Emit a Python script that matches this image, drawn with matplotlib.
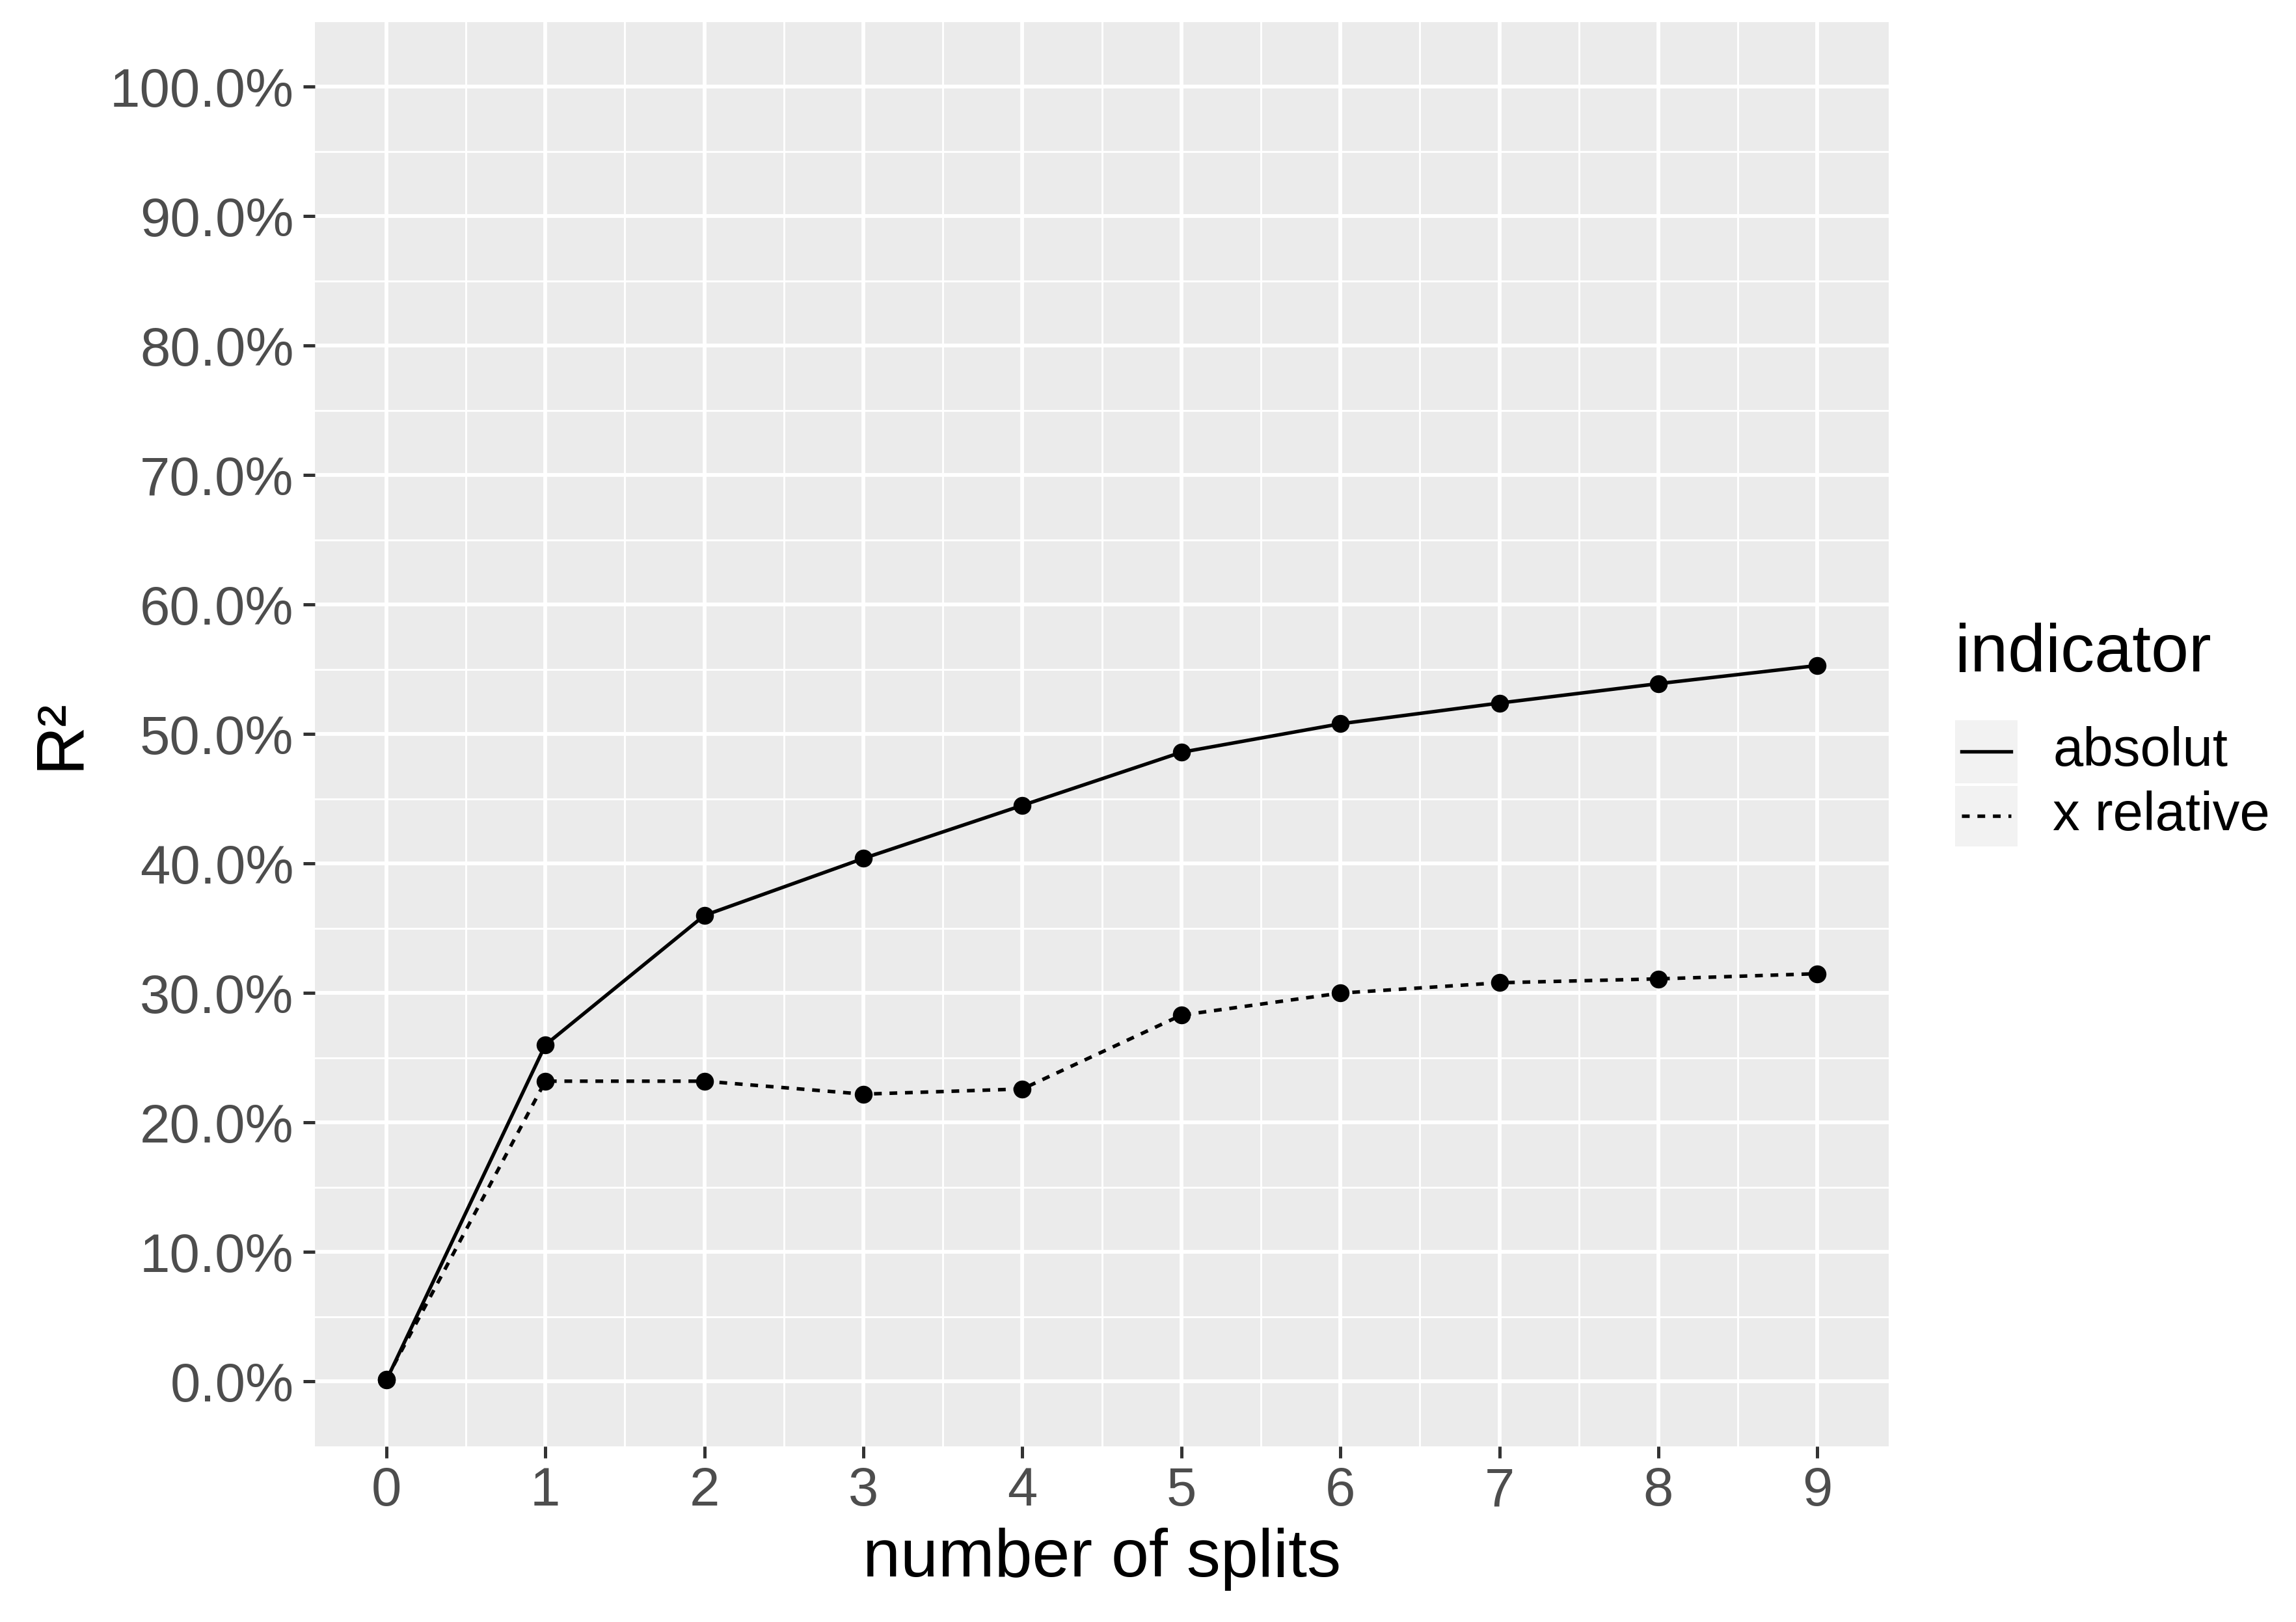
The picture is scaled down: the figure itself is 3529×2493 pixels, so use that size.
import matplotlib
matplotlib.use("Agg")
import matplotlib.pyplot as plt
from matplotlib.lines import Line2D
from matplotlib.patches import Rectangle
from matplotlib.ticker import FixedLocator, FuncFormatter

plt.rcParams['font.family'] = ['Liberation Sans', 'DejaVu Sans']

# data
splits = [0, 1, 2, 3, 4, 5, 6, 7, 8, 9]
r2_absolut = [0.001, 0.260, 0.360, 0.404, 0.445, 0.486, 0.508, 0.524, 0.539, 0.553]
r2_relative = [0.002, 0.232, 0.232, 0.222, 0.226, 0.283, 0.300, 0.308, 0.311, 0.315]
series_names = ['absolut', 'x relative']
y_ticks = [i / 10 for i in range(11)]

W, H = 3529, 2493
fig = plt.figure(figsize=(W / 300, H / 300), dpi=300)
# panel position measured on the 1568x1108 preview
left, right, top, bottom = 215 / 1568, 1290 / 1568, 1 - 15 / 1108, 1 - 988 / 1108
ax = fig.add_axes([left, bottom, right - left, top - bottom])

ax.set_facecolor('#EBEBEB')
for s in ax.spines.values():
    s.set_visible(False)

ax.set_xlim(-0.45, 9.45)
ax.set_ylim(-0.05, 1.05)
ax.xaxis.set_major_locator(FixedLocator(splits))
ax.yaxis.set_major_locator(FixedLocator(y_ticks))
ax.xaxis.set_minor_locator(FixedLocator([x + 0.5 for x in splits[:-1]]))
ax.yaxis.set_minor_locator(FixedLocator([y + 0.05 for y in y_ticks[:-1]]))
ax.yaxis.set_major_formatter(FuncFormatter(lambda v, p: f"{v * 100:.1f}%"))

ax.grid(which='major', color='white', linewidth=1.4)
ax.grid(which='minor', color='white', linewidth=0.7)
ax.set_axisbelow(True)

ax.tick_params(which='major', length=4.3, width=1.2, color='#333333',
               labelsize=20, labelcolor='#4D4D4D')
ax.tick_params(axis='x', pad=3)
ax.tick_params(axis='y', pad=3.5)
ax.tick_params(which='minor', length=0)

ax.plot(splits, r2_absolut, color='black', linewidth=1.3, solid_capstyle='butt')
ax.plot(splits, r2_relative, color='black', linewidth=1.3, dashes=(2.2, 2.2))
ax.plot(splits, r2_absolut, 'o', color='black', markersize=6.6, markeredgewidth=0)
ax.plot(splits, r2_relative, 'o', color='black', markersize=6.6, markeredgewidth=0)

# axis titles
fig.text((left + right) / 2, 1 - 1065 / 1108, 'number of splits', fontsize=25,
         ha='center', va='center')
fig.text(42 / 1568, (top + bottom) / 2, 'R²', fontsize=25, rotation=90,
         ha='center', va='center')

# legend drawn by hand so the key boxes match ggplot
fig.text(1335 / 1568, 1 - 447 / 1108, 'indicator', fontsize=25, ha='left', va='center')
key_x0, key_x1 = 1335 / 1568, 1378 / 1568
key_rows = [(492, 535), (537, 578)]
styles = [dict(), dict(dashes=(2.2, 2.2))]
for name, (y0, y1), st in zip(series_names, key_rows, styles):
    fy0, fy1 = 1 - y1 / 1108, 1 - y0 / 1108
    fig.add_artist(Rectangle((key_x0, fy0), key_x1 - key_x0, fy1 - fy0,
                             transform=fig.transFigure, facecolor='#F2F2F2',
                             edgecolor='none'))
    yc = (fy0 + fy1) / 2
    fig.add_artist(Line2D([key_x0 + 0.003, key_x1 - 0.003], [yc, yc],
                          transform=fig.transFigure, color='black', linewidth=1.3, **st))
    fig.text(1402 / 1568, yc, name, fontsize=20, ha='left', va='center')

fig.savefig('out.png', dpi=300, facecolor='white')
